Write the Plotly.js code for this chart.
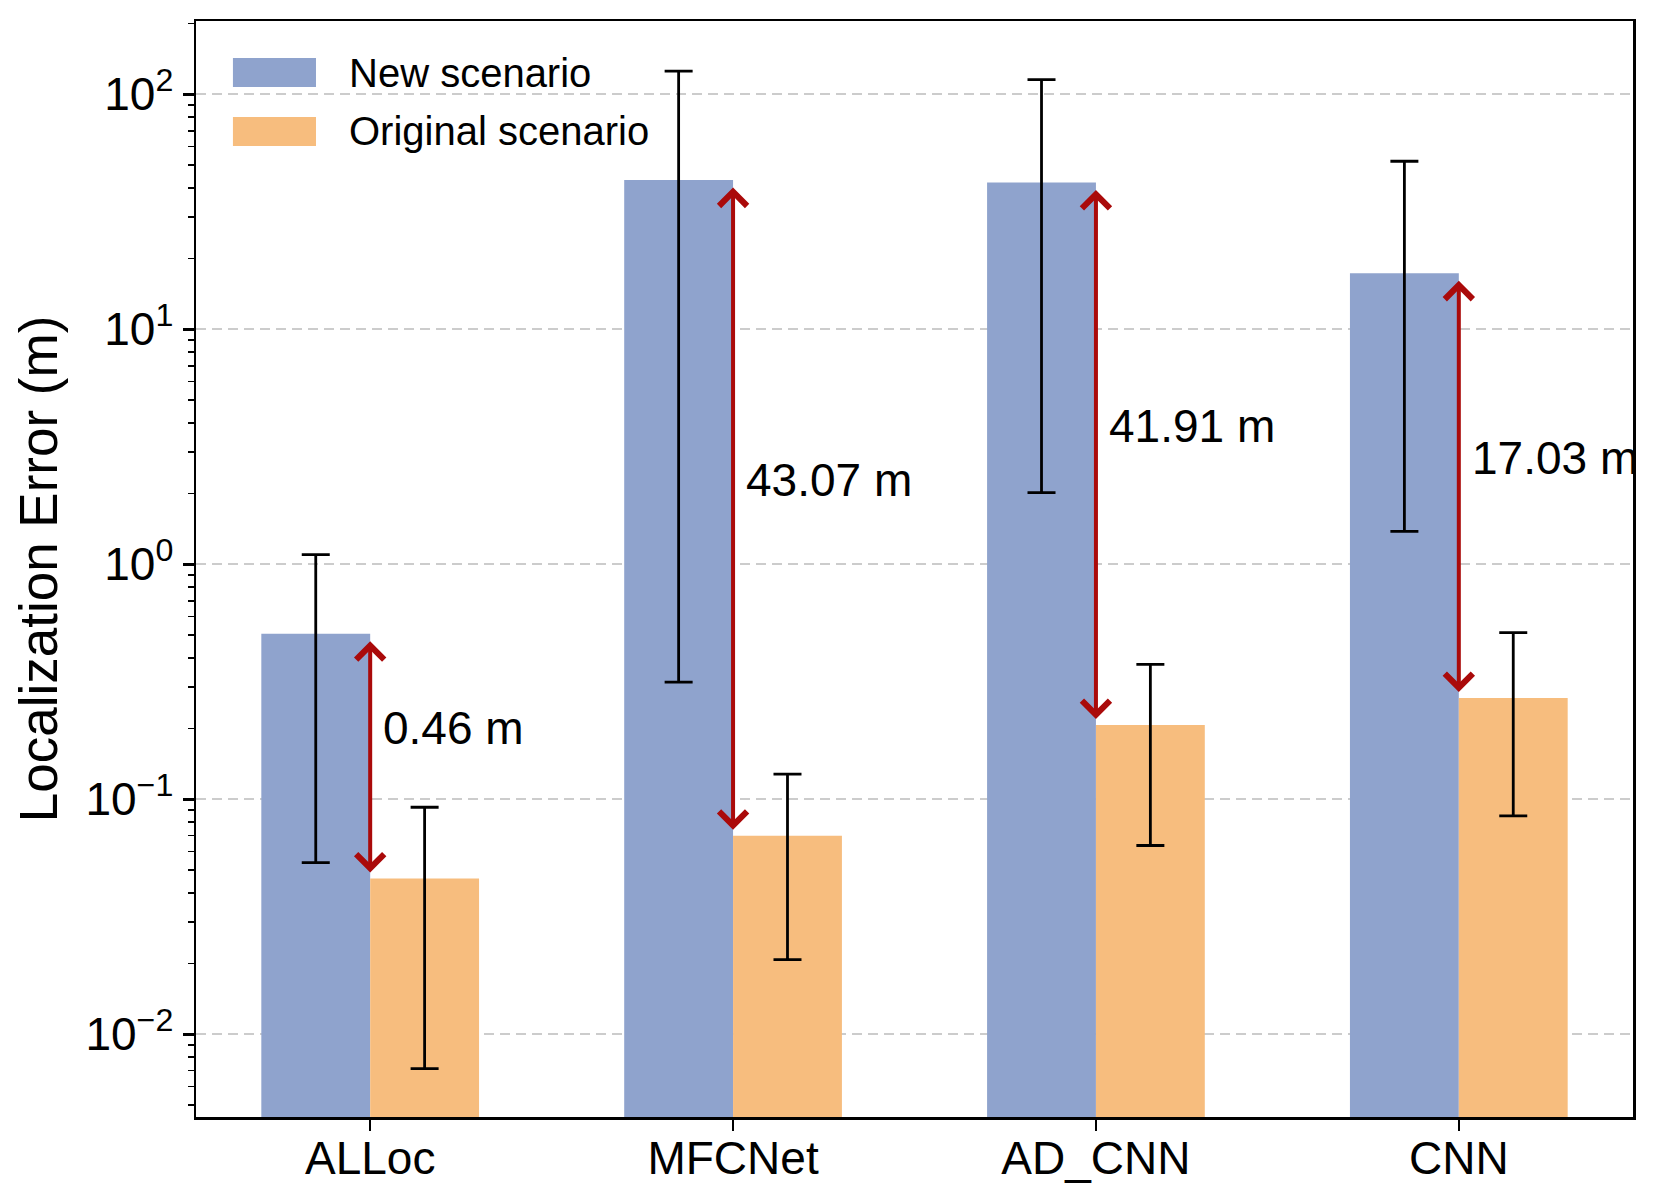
<!DOCTYPE html>
<html>
<head>
<meta charset="utf-8">
<script src="https://cdn.plot.ly/plotly-3.0.1.min.js"></script>
<style>html,body{margin:0;padding:0;background:#fff;}#chart{width:1659px;height:1203px;}</style>
</head>
<body>
<div id="chart"></div>
<script>
// ---- data ----
const categories = ['ALLoc', 'MFCNet', 'AD_CNN', 'CNN'];
const seriesNames = ['New scenario', 'Original scenario'];
const newScenario = [0.506, 43.14, 42.12, 17.30];
const newUpper = [1.10, 125.6, 115.5, 51.9];
const newLower = [0.0538, 0.315, 2.02, 1.38];
const originalScenario = [0.046, 0.070, 0.207, 0.270];
const origUpper = [0.0925, 0.128, 0.375, 0.512];
const origLower = [0.00714, 0.0208, 0.0636, 0.085];
const gapLabels = [0.46, 43.07, 41.91, 17.03];
const yTickVals = [0.01, 0.1, 1, 10, 100];
const yTickText = ['10<sup>\u22122</sup>', '10<sup>\u22121</sup>', '10<sup>0</sup>', '10<sup>1</sup>', '10<sup>2</sup>'];

// ---- styles ----
const FONT = 'Liberation Sans, Arial, Helvetica, sans-serif';
const blue = '#8FA3CD';
const orange = '#F7BD7E';
const red = '#AA0A0A';

const idx = categories.map((c, i) => i);
const trNew = {
  type: 'bar', name: seriesNames[0], x: idx, y: newScenario,
  width: 0.3, offset: -0.3, marker: {color: blue, line: {width: 0}},
  error_y: {type: 'data', symmetric: false,
    array: newUpper.map((u, i) => u - newScenario[i]),
    arrayminus: newLower.map((l, i) => newScenario[i] - l),
    color: '#000', thickness: 2.8, width: 14},
  showlegend: false, hoverinfo: 'skip'
};
const trOrig = {
  type: 'bar', name: seriesNames[1], x: idx, y: originalScenario,
  width: 0.3, offset: 0, marker: {color: orange, line: {width: 0}},
  error_y: {type: 'data', symmetric: false,
    array: origUpper.map((u, i) => u - originalScenario[i]),
    arrayminus: origLower.map((l, i) => originalScenario[i] - l),
    color: '#000', thickness: 2.8, width: 14},
  showlegend: false, hoverinfo: 'skip'
};

const annotations = [];
idx.forEach(i => {
  const ln = Math.log10(newScenario[i]);
  const lo = Math.log10(originalScenario[i]);
  annotations.push({
    x: i, y: lo, ax: i, ay: ln, xref: 'x', yref: 'y', axref: 'x', ayref: 'y',
    text: '', showarrow: true, arrowside: 'end+start',
    arrowhead: 4, startarrowhead: 4, arrowsize: 1.35, startarrowsize: 1.35,
    arrowwidth: 4, arrowcolor: red, standoff: 6, startstandoff: 6
  });
  annotations.push({
    x: i + 0.03, y: (ln + lo) / 2, xref: 'x', yref: 'y',
    text: gapLabels[i].toFixed(2) + ' m', showarrow: false,
    xanchor: 'left', yanchor: 'bottom',
    font: {family: FONT, size: 46, color: '#000'}
  });
});

// custom legend (patches + labels)
const shapes = [];
const legendColors = [blue, orange];
const legendRowY = [0.953, 0.8992];
seriesNames.forEach((n, k) => {
  shapes.push({type: 'rect', xref: 'paper', yref: 'paper',
    x0: 0.0257, x1: 0.0835, y0: legendRowY[k] - 0.0132, y1: legendRowY[k] + 0.0132,
    fillcolor: legendColors[k], line: {width: 0}});
  annotations.push({xref: 'paper', yref: 'paper', x: 0.1052, y: legendRowY[k],
    xanchor: 'left', yanchor: 'middle', text: n, showarrow: false,
    font: {family: FONT, size: 40, color: '#000'}});
});

const minorVals = [];
for (let e = -3; e <= 2; e++) for (let m = 2; m <= 9; m++) minorVals.push(m * Math.pow(10, e));

const layout = {
  width: 1659, height: 1203,
  margin: {l: 196, r: 26, t: 21, b: 86},
  paper_bgcolor: '#fff', plot_bgcolor: '#fff',
  font: {family: FONT, color: '#000'},
  barmode: 'overlay',
  showlegend: false,
  xaxis: {
    type: 'linear', range: [-0.48, 3.48],
    tickmode: 'array', tickvals: idx, ticktext: categories,
    ticks: 'outside', ticklen: 11, tickwidth: 2.5, tickcolor: '#000',
    showline: true, linewidth: 2.5, linecolor: '#000', mirror: true,
    showgrid: false, zeroline: false, ticklabelstandoff: -12,
    tickfont: {family: FONT, size: 46, color: '#000'}
  },
  yaxis: {
    type: 'log', range: [-2.352, 2.312],
    tickmode: 'array', tickvals: yTickVals, ticktext: yTickText,
    ticks: 'outside', ticklen: 11, tickwidth: 2.5, tickcolor: '#000',
    showline: true, linewidth: 2.5, linecolor: '#000', mirror: true,
    showgrid: true, gridcolor: '#cccccc', gridwidth: 1.8, griddash: '10px,6px',
    zeroline: false,
    minor: {tickmode: 'array', tickvals: minorVals, ticks: 'outside', ticklen: 6, tickwidth: 1.6, tickcolor: '#000', showgrid: false},
    tickfont: {family: FONT, size: 46, color: '#000'},
    title: {text: 'Localization Error (m)', font: {family: FONT, size: 53, color: '#000'}, standoff: 11}
  },
  annotations: annotations,
  shapes: shapes
};

Plotly.newPlot('chart', [trNew, trOrig], layout, {staticPlot: true, displayModeBar: false});
</script>
</body>
</html>
